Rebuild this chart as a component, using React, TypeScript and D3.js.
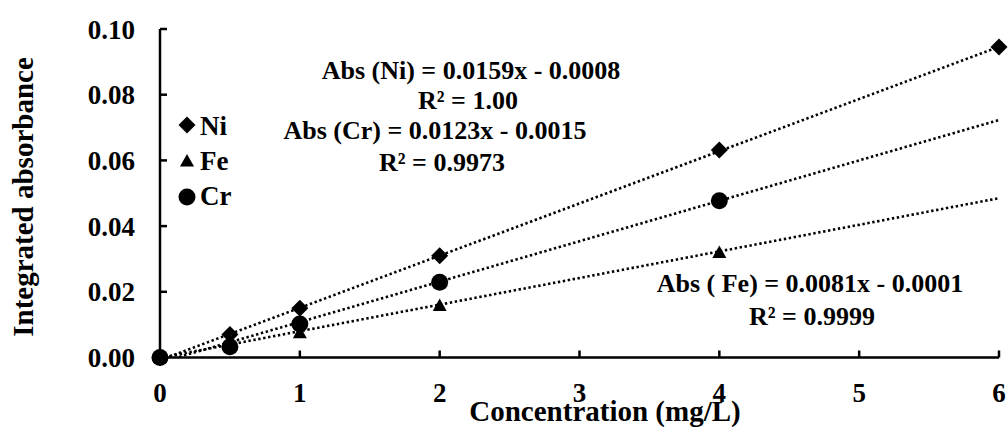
import React from 'react';
import * as d3 from 'd3';

// concentrations (mg/L) and integrated absorbance
const niConc = [0, 0.5, 1, 2, 4, 6];
const niAbs = [0, 0.007, 0.015, 0.031, 0.0632, 0.0945];
const feConc = [0, 0.5, 1, 2, 4];
const feAbs = [0, 0.0039, 0.0075, 0.0158, 0.032];
const crConc = [0, 0.5, 1, 2, 4];
const crAbs = [0, 0.0033, 0.0102, 0.0229, 0.0477];

// linear trendlines from the printed equations
const seriesNames = ['Ni', 'Fe', 'Cr'];
const slopes = [0.0159, 0.0081, 0.0123];
const intercepts = [-0.0008, -0.0001, -0.0015];

const xTicks = [0, 1, 2, 3, 4, 5, 6];
const yTicks = [0, 0.02, 0.04, 0.06, 0.08, 0.1];

const font = "'Liberation Serif', 'Times New Roman', serif";

const W = 1008;
const H = 428;
const margin = { top: 29, right: 9, bottom: 70.5, left: 160 };

const Marker = ({ kind, x, y }: { kind: string; x: number; y: number }) => {
  if (kind === 'Ni') {
    const r = 8.5;
    return <path d={`M${x},${y - r}L${x + r},${y}L${x},${y + r}L${x - r},${y}Z`} fill="#000" />;
  }
  if (kind === 'Fe') {
    return <path d={`M${x},${y - 7}L${x + 7},${y + 5.5}L${x - 7},${y + 5.5}Z`} fill="#000" />;
  }
  return <circle cx={x} cy={y} r={8.5} fill="#000" />;
};

const App = () => {
  const x = d3.scaleLinear().domain([0, 6]).range([margin.left, W - margin.right]);
  const y = d3.scaleLinear().domain([0, 0.1]).range([H - margin.bottom, margin.top]);

  const points = [
    { name: 'Ni', data: niConc.map((c, i) => [c, niAbs[i]]) },
    { name: 'Fe', data: feConc.map((c, i) => [c, feAbs[i]]) },
    { name: 'Cr', data: crConc.map((c, i) => [c, crAbs[i]]) },
  ];

  const x0 = x(0);
  const y0 = y(0);

  return (
    <svg
      width={W}
      height={H}
      style={{ position: 'absolute', left: 0, top: 0, background: '#fff', fontFamily: font, fontWeight: 'bold' }}
    >
      <defs>
        <clipPath id="plot">
          <rect x={x0} y={y(0.1) - 5} width={x(6) - x0 + 5} height={y0 - y(0.1) + 5} />
        </clipPath>
      </defs>

      {/* trendlines */}
      <g clipPath="url(#plot)">
        {seriesNames.map((s, i) => {
          const d = d3
            .line<number>()
            .x(c => x(c))
            .y(c => y(slopes[i] * c + intercepts[i]))([0, 6]);
          return (
            <path
              key={s}
              d={d || ''}
              fill="none"
              stroke="#000"
              strokeWidth={2.6}
              strokeDasharray="2.4 2.6"
            />
          );
        })}
      </g>

      {/* axes */}
      <line x1={x0} x2={x0} y1={y(0.1)} y2={y0} stroke="#000" strokeWidth={2.5} />
      <line x1={x0} x2={x(6)} y1={y0} y2={y0} stroke="#000" strokeWidth={2.5} />
      {yTicks.map(t => (
        <g key={t}>
          <line x1={x0} x2={x0 + 7} y1={y(t)} y2={y(t)} stroke="#000" strokeWidth={2.5} />
          <text x={135} y={y(t) + 9.5} textAnchor="end" fontSize={27}>
            {d3.format('.2f')(t)}
          </text>
        </g>
      ))}
      {xTicks.map(t => (
        <g key={t}>
          {t > 0 && <line x1={x(t)} x2={x(t)} y1={y0} y2={y0 - 7} stroke="#000" strokeWidth={2.5} />}
          <text x={x(t)} y={402} textAnchor="middle" fontSize={27}>
            {t}
          </text>
        </g>
      ))}

      {/* data points */}
      {points.map(s => (
        <g key={s.name}>
          {s.data.map(([c, v], i) => (
            <Marker key={i} kind={s.name} x={x(c)} y={y(v)} />
          ))}
        </g>
      ))}

      {/* axis titles */}
      <text x={605} y={421} textAnchor="middle" fontSize={29}>
        Concentration (mg/L)
      </text>
      <text transform="translate(33,197) rotate(-90)" textAnchor="middle" fontSize={29}>
        Integrated absorbance
      </text>

      {/* legend */}
      {seriesNames.map((s, i) => (
        <g key={s}>
          <Marker kind={s} x={187} y={125 + i * 36} />
          <text x={200} y={135 + i * 35} fontSize={27}>
            {s}
          </text>
        </g>
      ))}

      {/* equations */}
      <g fontSize={26} textAnchor="middle">
        <text x={471} y={79}>Abs (Ni) = 0.0159x - 0.0008</text>
        <text x={468} y={109}>R² = 1.00</text>
        <text x={435} y={139}>Abs (Cr) = 0.0123x - 0.0015</text>
        <text x={442} y={171}>R² = 0.9973</text>
        <text x={810} y={292}>Abs ( Fe) = 0.0081x - 0.0001</text>
        <text x={812} y={325}>R² = 0.9999</text>
      </g>
    </svg>
  );
};

export default App;
